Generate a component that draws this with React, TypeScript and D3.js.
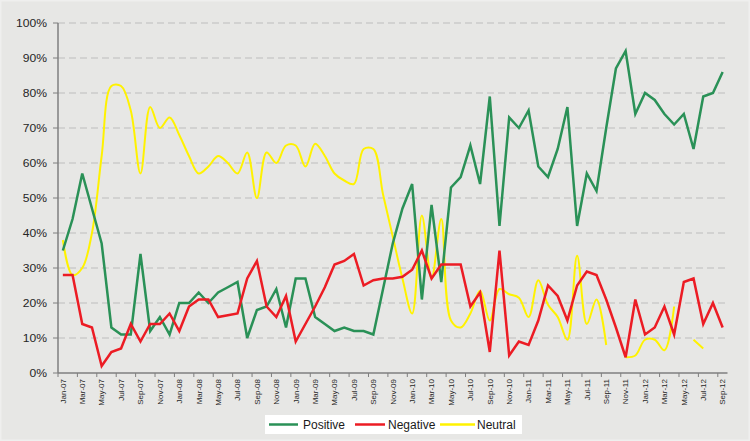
import React from "react";
import * as d3 from "d3";

const months: string[] = d3
  .timeMonths(new Date(2007, 0, 1), new Date(2012, 9, 1))
  .map((d) => d3.timeFormat("%b-%y")(d));

const positive: number[] = [
  35, 44, 57, 47, 37, 13, 11, 11, 34, 12, 16, 11,
  20, 20, 23, 20, 23, 24.5, 26, 10, 18, 19, 24, 13,
  27, 27, 16, 14, 12, 13, 12, 12, 11, 24, 37, 47,
  54, 21, 48, 26, 53, 56, 65, 54, 79, 42, 73, 70,
  75, 59, 56, 64, 76, 42, 57, 52, 70, 87, 92, 74,
  80, 78, 74, 71, 74, 64, 79, 80, 86,
];

const negative: number[] = [
  28, 28, 14, 13, 2, 6, 7, 14, 9, 14, 14, 17,
  12, 19, 21, 21, 16, 16.5, 17, 27, 32, 19, 16, 22,
  9, 14, 19, 24.5, 31, 32, 34, 25, 26.5, 27, 27, 27.5,
  29.5, 35, 27, 31, 31, 31, 19, 23, 6, 35, 5, 9,
  8, 15, 25, 22, 15, 25, 29, 28, 21, 13, 4.5, 21,
  11, 13, 19, 11, 26, 27, 14, 20, 13,
];

const neutral: (number | null)[] = [
  38, 28, 30, 40, 62, 82, 82, 75, 57, 76, 70, 73,
  68, 62, 57, 59, 62, 60, 57, 63, 50, 63, 60, 65,
  65, 59, 65.5, 62, 57, 55, 54, 64, 64, 51, 39, 27,
  17, 45, 27, 44, 15, 13, 17, 23.5, 15, 24, 22.5, 21.5,
  16, 26.5, 19.5, 16, 9.5, 33.5, 14, 21, 8, null, 4.5, 5,
  9.5, 9.5, 6.5, 19, null, 9.5, 7, null, null,
];

const seriesNames = ["Positive", "Negative", "Neutral"];
const yTicks = [0, 10, 20, 30, 40, 50, 60, 70, 80, 90, 100];

const W = 750;
const H = 441;
const left = 58;
const right = 727.5;
const top = 23;
const bottom = 373;
const FONT = "'Liberation Sans', Arial, sans-serif";

export default function App() {
  const x = d3.scaleBand<string>().domain(months).range([left, right]).padding(0);
  const bw = x.bandwidth();
  const cx = (i: number) => (x(months[i]) as number) + bw / 2;
  const y = d3.scaleLinear().domain([0, 100]).range([bottom, top]);

  const straight = d3
    .line<number>()
    .x((_, i) => cx(i))
    .y((d) => y(d));

  const smooth = d3
    .line<number | null>()
    .defined((d) => d != null)
    .x((_, i) => cx(i))
    .y((d) => y(d as number))
    .curve(d3.curveCatmullRom.alpha(0.5));

  const colors = ["#2a9157", "#ec1c24", "#fff200"];

  const tickIdx = months.map((_, i) => i).filter((i) => i % 2 === 0);

  const legendItems = [
    { name: seriesNames[0], color: colors[0], x0: 269, x1: 298, tx: 303 },
    { name: seriesNames[1], color: colors[1], x0: 355, x1: 385, tx: 388 },
    { name: seriesNames[2], color: colors[2], x0: 440, x1: 475, tx: 477 },
  ];

  return (
    <svg
      width={W}
      height={H}
      style={{ position: "absolute", left: 0, top: 0, display: "block" }}
      fontFamily={FONT}
    >
      <rect x={0} y={0} width={W} height={H} fill="#e7e7e5" />
      <rect x={0.75} y={0.75} width={W - 1.5} height={H - 1.5} fill="none" stroke="#efefee" strokeWidth={1.5} />

      {/* gridlines */}
      {yTicks
        .filter((t) => t > 0)
        .map((t) => (
          <line
            key={"g" + t}
            x1={left}
            x2={right}
            y1={y(t)}
            y2={y(t)}
            stroke="#bdbdbd"
            strokeWidth={1}
            strokeDasharray="7,4"
          />
        ))}

      {/* y axis */}
      <line x1={left} x2={left} y1={top} y2={bottom} stroke="#7f7f7f" strokeWidth={1.5} />
      {yTicks.map((t) => (
        <g key={"y" + t}>
          <line x1={left - 5} x2={left} y1={y(t)} y2={y(t)} stroke="#7f7f7f" strokeWidth={1} />
          <text
            transform={`translate(${47},${y(t)}) scale(1.1,1)`}
            textAnchor="end"
            dy="0.36em"
            fontSize={11}
            fill="#262626"
          >
            {t + "%"}
          </text>
        </g>
      ))}

      {/* x axis */}
      <line x1={left} x2={right} y1={bottom} y2={bottom} stroke="#7f7f7f" strokeWidth={1.5} />
      {tickIdx.map((i) => (
        <g key={"x" + i}>
          <line
            x1={x(months[i]) as number}
            x2={x(months[i]) as number}
            y1={bottom}
            y2={bottom + 4}
            stroke="#7f7f7f"
            strokeWidth={1}
          />
          <text
            transform={`translate(${cx(i)},${bottom + 6}) rotate(-90)`}
            textAnchor="end"
            dy="0.35em"
            fontSize={8}
            fill="#262626"
          >
            {months[i]}
          </text>
        </g>
      ))}

      {/* series */}
      <path d={smooth(neutral) || ""} fill="none" stroke={colors[2]} strokeWidth={2} />
      <path d={straight(positive) || ""} fill="none" stroke={colors[0]} strokeWidth={2.5} strokeLinejoin="miter" />
      <path d={straight(negative) || ""} fill="none" stroke={colors[1]} strokeWidth={2.5} strokeLinejoin="miter" />

      {/* legend */}
      <rect x={265} y={415} width={257} height={19} fill="#ffffff" />
      {legendItems.map((it) => (
        <g key={it.name}>
          <line x1={it.x0} x2={it.x1} y1={424.5} y2={424.5} stroke={it.color} strokeWidth={2.5} />
          <text x={it.tx} y={424.5} dy="0.36em" fontSize={12} fill="#1a1a1a">
            {it.name}
          </text>
        </g>
      ))}
    </svg>
  );
}
